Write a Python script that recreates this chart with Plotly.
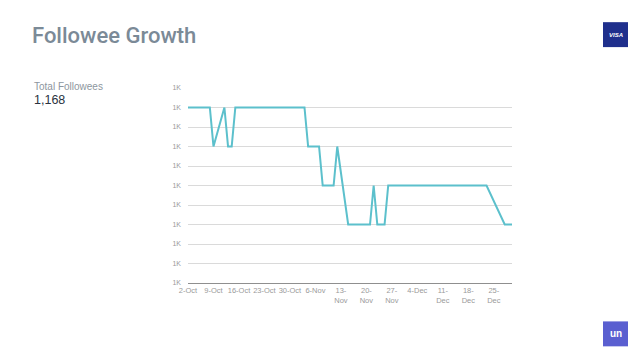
import pandas as pd
import plotly.graph_objects as go

# ---- data ----
start_date = "2017-10-02"
followees = (
    [1174] * 7 + [1172] + [None] * 2 + [1174] + [1172] * 2 + [1174] * 20 +
    [1172] * 4 + [1170] * 4 + [1172] + [None] * 2 + [1168] * 7 + [1170] +
    [1168] * 3 + [1170] * 28 + [None] * 4 + [1168] * 3
)
dates = pd.date_range(start_date, periods=len(followees), freq="D")

x_tick_dates = ["2017-10-02", "2017-10-09", "2017-10-16", "2017-10-23", "2017-10-30",
                "2017-11-06", "2017-11-13", "2017-11-20", "2017-11-27", "2017-12-04",
                "2017-12-11", "2017-12-18", "2017-12-25"]
x_tick_labels = ["2-Oct", "9-Oct", "16-Oct", "23-Oct", "30-Oct", "6-Nov",
                 "13-<br>Nov", "20-<br>Nov", "27-<br>Nov", "4-Dec",
                 "11-<br>Dec", "18-<br>Dec", "25-<br>Dec"]
y_tick_values = [1165, 1166, 1167, 1168, 1169, 1170, 1171, 1172, 1173, 1174, 1175]
y_tick_labels = ["1K"] * len(y_tick_values)

title_text = "Followee Growth"
kpi_label = "Total Followees"
kpi_value = "1,168"

# ---- figure ----
W, H = 638, 359
L, R, T, B = 188, 512, 88, 283.5
pw, ph = R - L, B - T


def px(x):
    return (x - L) / pw


def py(y):
    return (B - y) / ph


fig = go.Figure()
fig.add_trace(go.Scatter(
    x=dates, y=followees, mode="lines", connectgaps=True,
    line=dict(color="#5cc0cc", width=2), hoverinfo="skip", showlegend=False,
))

font_family = "Liberation Sans, Arial, sans-serif"

fig.update_layout(
    width=W, height=H,
    margin=dict(l=L, r=W - R, t=T, b=H - B),
    paper_bgcolor="white", plot_bgcolor="white",
    font=dict(family=font_family),
    title=dict(
        text=title_text, xref="container", yref="container",
        x=32 / W, xanchor="left", y=1 - 35 / H, yanchor="middle",
        font=dict(family="Roboto, sans-serif", weight=500, size=22, color="#7b8a97"),
    ),
    xaxis=dict(
        type="date", range=[dates[0], dates[-1]],
        tickvals=x_tick_dates, ticktext=x_tick_labels, tickangle=0,
        tickfont=dict(size=7.5, color="#9a9a9a"),
        showgrid=False, zeroline=False,
        showline=True, linecolor="#8f8f8f", linewidth=1.2,
        ticks="", fixedrange=True,
    ),
    yaxis=dict(
        range=[1165, 1175], tickvals=y_tick_values, ticktext=y_tick_labels,
        tickfont=dict(size=7, color="#9a9a9a"),
        showgrid=True, gridcolor="#dadada", gridwidth=1,
        zeroline=False, showline=False, ticks="", ticklabelstandoff=6,
        fixedrange=True,
    ),
)

fig.add_annotation(
    text=kpi_label, xref="paper", yref="paper", x=px(32), y=py(86),
    xanchor="left", yanchor="middle", showarrow=False,
    font=dict(size=10, color="#8d969e", family=font_family),
)
fig.add_annotation(
    text=kpi_value, xref="paper", yref="paper", x=px(32), y=py(100),
    xanchor="left", yanchor="middle", showarrow=False,
    font=dict(size=12.5, color="#2a3240", family=font_family),
)

# VISA logo (top right)
fig.add_shape(type="rect", xref="paper", yref="paper",
              x0=px(603), x1=px(628), y0=py(47), y1=py(22),
              fillcolor="#1f2f8c", line=dict(width=0), layer="above")
fig.add_annotation(
    text="<b><i>VISA</i></b>", xref="paper", yref="paper", x=px(615.5), y=py(35),
    xanchor="center", yanchor="middle", showarrow=False,
    font=dict(size=6, color="white", family=font_family),
)

# bottom right logo
fig.add_shape(type="rect", xref="paper", yref="paper",
              x0=px(603), x1=px(628), y0=py(347), y1=py(322),
              fillcolor="#5a5fd0", line=dict(width=0), layer="above")
fig.add_annotation(
    text="<b>un</b>", xref="paper", yref="paper", x=px(615.5), y=py(334.5),
    xanchor="center", yanchor="middle", showarrow=False,
    font=dict(size=10, color="white", family=font_family),
)

fig.write_html("out.html", config={"displayModeBar": False},
               post_script="document.body.style.margin='0';")
